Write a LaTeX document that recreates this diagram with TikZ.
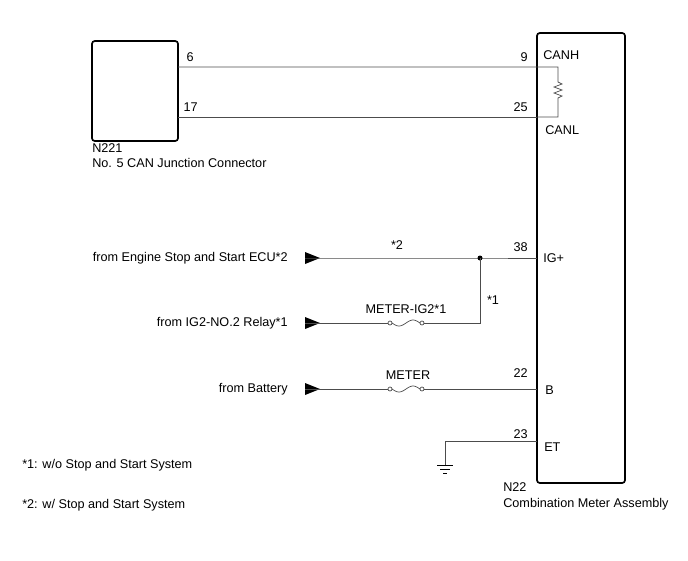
\documentclass[tikz,border=0pt]{standalone}
\usepackage{fontspec}
\setmainfont{Liberation Sans}
\usetikzlibrary{positioning}
\begin{document}
\begin{tikzpicture}[x=0.025cm,y=-0.025cm,
    txt/.style={inner sep=0pt, font=\fontsize{9}{10}\selectfont},
    wire/.style={draw=black!70, line width=0.5pt},
    part/.style={draw=black, line width=1.2pt, rounded corners=2pt},
    pin/.style={txt, anchor=base east}]
  \useasboundingbox (0,0) rectangle (688,560);
  \tikzstyle{tip} = [fill=black, draw=none]
  % connectors and meter
  \draw[part] (92,41) rectangle (178,141);
  \draw[part] (537,33) rectangle (625,483);
  \node (jc) [txt, anchor=base west] at (92,152) {N221};
  \node [txt, anchor=base west] at (92,167) {No. 5 CAN Junction Connector};
  \node (mt) [txt, anchor=base west] at (503,491) {N22};
  \node [txt, anchor=base west] at (503,507) {Combination Meter Assembly};
  % CAN lines
  \coordinate (h1) at (178,67); \coordinate (h2) at (537,67);
  \coordinate (l1) at (178,117); \coordinate (l2) at (537,117);
  \draw[wire] (h1) -- (h2) -- (558,67) -- (558,82) -- (562,84) -- (554,87) -- (562,90) -- (554,93) -- (562,96) -- (558,98) -- (558,117) -- (l2);
  \draw[wire] (l1) -- (l2);
  \node[pin] at (194,61) {6};
  \node[pin] at (528,61) {9};
  \node[pin] at (198,111) {17};
  \node[pin] at (528,111) {25};
  \node[txt, anchor=base west] at (543,59) {CANH};
  \node[txt, anchor=base west] at (545,134) {CANL};
  % power inputs
  \foreach \y/\t in {258/from Engine Stop and Start ECU*2, 323/from IG2-NO.2 Relay*1, 389/from Battery}{
    \node[txt, anchor=east] at (288,\y) {\t};
    \fill[tip] (305,\y-6) -- (320,\y) -- (305,\y+6) -- cycle;
  }
  \coordinate (j) at (480,258);
  \draw[wire] (305,258) -- (j) -- (537,258);
  \fill (j) circle (2.5);
  \node[txt] at (397,245) {*2};
  \node[pin] at (528,251) {38};
  \node[txt, anchor=base west] at (543,262) {IG+};
  \foreach \y in {323,389}{
    \draw[wire] (305,\y) -- (388,\y);
    \draw[wire] (390,\y) circle (2);
    \draw[wire] (422,\y) circle (2);
    \draw[wire, domain=392:420, samples=30] plot (\x, {\y+3*sin((\x-392)/28*360)});
  }
  \draw[wire] (424,323) -- (480,323) -- (j);
  \draw[wire] (424,389) -- (537,389);
  \node[txt] at (406,309) {METER-IG2*1};
  \node[txt] at (493,300) {*1};
  \node[txt] at (408,375) {METER};
  \node[pin] at (528,377) {22};
  \node[txt, anchor=base west] at (545,394) {B};
  % ground
  \draw[wire] (537,441) -- (445,441) -- (445,465);
  \draw[black, line width=0.6pt] (437,465) -- (453,465) (440,469) -- (450,469) (443,473) -- (447,473);
  \node[pin] at (528,438) {23};
  \node[txt, anchor=base west] at (544,451) {ET};
  % notes
  \node[txt, anchor=base west] at (22,468) {*1: w/o Stop and Start System};
  \node[txt, anchor=base west] at (22,508) {*2: w/ Stop and Start System};
\end{tikzpicture}
\end{document}
